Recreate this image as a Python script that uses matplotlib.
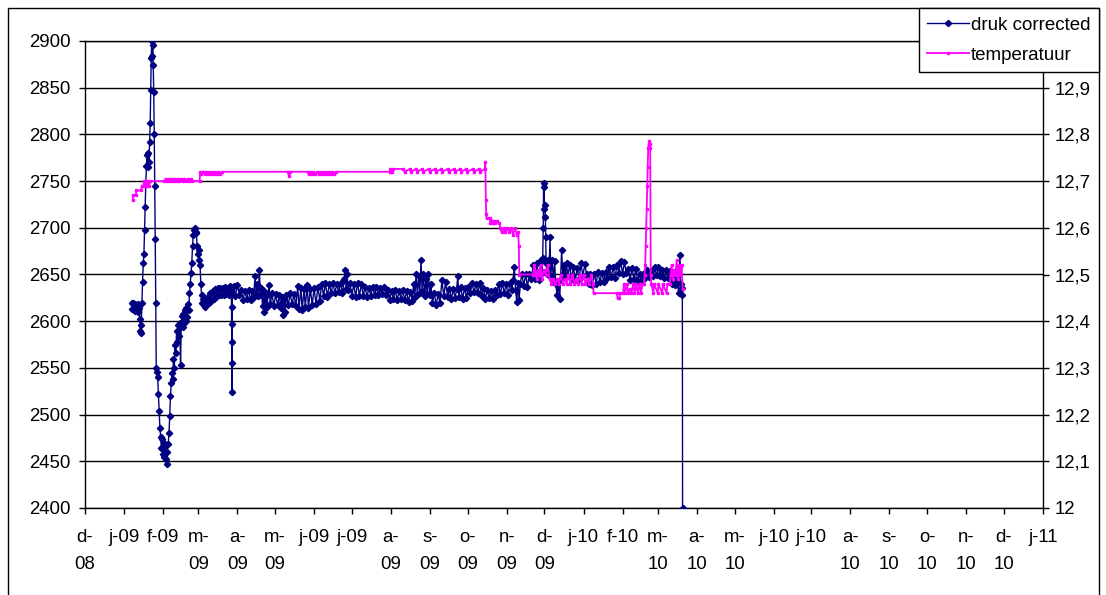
import numpy as np
import matplotlib
matplotlib.use("Agg")
import matplotlib.pyplot as plt
from matplotlib.patches import Rectangle

plt.rcParams["font.family"] = ["Liberation Sans", "DejaVu Sans"]

# --- axis labels -----------------------------------------------------------
month_starts = ["2008-12-01", "2009-01-01", "2009-02-01", "2009-03-01", "2009-04-01",
                "2009-05-01", "2009-06-01", "2009-07-01", "2009-08-01", "2009-09-01",
                "2009-10-01", "2009-11-01", "2009-12-01", "2010-01-01", "2010-02-01",
                "2010-03-01", "2010-04-01", "2010-05-01", "2010-06-01", "2010-07-01",
                "2010-08-01", "2010-09-01", "2010-10-01", "2010-11-01", "2010-12-01",
                "2011-01-01"]
month_labels = ["d-\n08", "j-09", "f-09", "m-\n09", "a-\n09", "m-\n09", "j-09", "j-09",
                "a-\n09", "s-\n09", "o-\n09", "n-\n09", "d-\n09", "j-10", "f-10",
                "m-\n10", "a-\n10", "m-\n10", "j-10", "j-10", "a-\n10", "s-\n10",
                "o-\n10", "n-\n10", "d-\n10", "j-11"]
press_ticks = [2400, 2450, 2500, 2550, 2600, 2650, 2700, 2750, 2800, 2850, 2900]
temp_ticks = [12.0, 12.1, 12.2, 12.3, 12.4, 12.5, 12.6, 12.7, 12.8, 12.9]
temp_tick_labels = ["12", "12,1", "12,2", "12,3", "12,4", "12,5", "12,6", "12,7", "12,8", "12,9"]

# --- druk corrected (days since 2009-01-01, value) --------------------------
press_day = [
    6.1, 6.6, 7.2, 7.8, 8.4, 9.0, 9.6, 10.2, 10.8, 11.4, 12.0, 12.5, 12.9, 13.3, 13.7,
    14.2, 14.7, 15.3, 15.8, 16.3, 16.8, 17.3, 17.8, 18.3, 18.8, 19.3, 19.8, 20.3, 20.8,
    21.2, 21.6, 22.0, 22.4, 22.8, 23.2, 23.6, 24.0, 24.4, 24.8, 25.2, 25.6, 26.1, 26.7,
    27.3, 27.9, 28.5, 29.1, 29.7, 30.3, 30.9, 31.5, 32.1, 32.7, 33.3, 33.9, 34.5, 35.1,
    35.7, 36.3, 36.9, 37.5, 38.1, 38.7, 39.3, 39.9, 40.5, 41.1, 41.8, 42.4, 43.1, 43.7,
    44.3, 44.9, 45.4, 46.0, 46.6, 47.2, 47.8, 48.4, 49.0, 49.6, 50.2, 50.8, 51.4, 52.0,
    52.6, 53.2, 53.8, 54.4, 55.0, 55.6, 56.2, 56.8, 57.4, 58.0, 58.6, 59.2, 59.8, 60.4,
    61.0, 61.6, 62.2, 62.8, 63.4, 64.0, 64.6, 65.2, 65.8, 66.4, 67.4, 68.4, 69.4, 70.4,
    71.4, 72.4, 73.4, 74.4, 75.4, 76.4, 77.4, 78.4, 79.4, 80.4, 81.4, 82.4, 83.4, 84.4,
    85.2, 85.4, 85.5, 85.6, 85.7, 85.8, 86.0,
    87.0, 88.5, 90.0, 91.5, 93.0, 94.5, 96.0, 97.5, 99.0, 100.5, 102.0, 103.0, 104.1,
    105.0, 106.0, 106.8, 107.5, 108.3, 109.2, 110.0, 111.0, 111.5, 112.5, 113.5, 114.5,
    115.2, 116.2, 117.5, 119.0, 120.5, 122.0, 123.5, 124.5, 125.5, 126.3, 127.2, 128.0,
    129.0, 130.5, 132.0, 133.5, 135.0, 136.5, 138.0, 139.0, 140.5, 141.5, 143.0, 144.0,
    145.5, 146.5, 148.0, 149.5, 151.0, 152.5, 154.0, 155.5, 157.0, 158.5, 160.0, 161.5,
    163.0, 164.5, 166.0, 167.5, 169.0, 170.5, 172.0, 173.5, 175.0, 175.6, 176.4, 177.2,
    178.0, 179.5, 181.0, 182.5, 184.0, 185.5, 187.0, 188.5, 190.0, 191.5, 193.0, 194.5,
    196.0, 197.5, 199.0, 200.5, 202.0, 203.5, 205.0, 206.5, 208.0, 209.5, 211.0, 212.5,
    214.0, 215.5, 217.0, 218.5, 220.0, 221.5, 223.0, 224.5, 226.0, 227.5, 229.0, 230.0,
    231.0, 232.0, 233.0, 234.0, 235.0, 235.9, 236.8, 237.8, 238.8, 239.8, 240.8, 241.8,
    242.8, 243.8, 245.0, 246.5, 248.0, 249.5, 251.0, 252.5, 254.0, 255.5, 257.0, 258.5,
    260.0, 261.5, 263.0, 264.3, 265.1, 266.0, 267.5, 269.0, 270.5, 272.0, 273.5, 275.0,
    276.5, 278.0, 279.5, 281.0, 282.5, 284.0, 285.5, 287.0, 288.5, 290.0, 291.5, 293.0,
    294.5, 296.0, 297.5, 299.0, 300.5, 302.0, 303.5, 305.0, 306.5, 308.0, 309.0, 310.0,
    311.0, 312.0, 313.0, 313.8, 314.8, 316.0, 317.5, 319.0, 320.5, 322.0, 323.5, 325.0,
    326.5, 328.0, 329.5, 331.0, 332.0, 332.6, 333.0, 333.3, 333.7, 334.0, 334.3, 334.7,
    335.0, 335.3, 336.0, 336.8, 337.6, 338.4, 339.0, 340.0, 341.0, 342.0, 343.0, 344.0,
    345.0, 346.0, 346.8, 347.6, 348.5, 349.5, 350.5, 351.5, 352.5, 354.0, 355.5, 357.0,
    358.5, 360.0, 361.5, 363.0, 364.5, 366.0, 367.5, 369.0, 370.5, 372.0, 373.5, 375.0,
    376.5, 378.0, 379.5, 381.0, 382.5, 384.0, 385.5, 387.0, 388.5, 390.0, 391.5, 393.0,
    394.5, 396.0, 397.5, 399.0, 400.5, 402.0, 403.5, 405.0, 406.5, 408.0, 409.5, 411.0,
    412.5, 414.0, 415.5, 417.0, 418.5, 420.0, 421.5, 423.0, 424.5, 426.0, 427.5, 429.0,
    430.5, 432.0, 433.5, 435.0, 436.5, 438.0, 439.5, 440.5, 441.6, 442.2, 443.0, 443.5,
    443.7]
press_val = [
    2620, 2613, 2619, 2612, 2618, 2611, 2617, 2612, 2618, 2610, 2614, 2602, 2590, 2587, 2596,
    2620, 2642, 2662, 2672, 2698, 2722, 2748, 2766, 2778, 2765, 2780, 2770, 2792, 2812,
    2848, 2882, 2900, 2884, 2896, 2874, 2845, 2800, 2745, 2688, 2620, 2550, 2546, 2540,
    2522, 2504, 2486, 2476, 2464, 2474, 2458, 2470, 2455, 2466, 2452, 2447, 2460, 2468,
    2480, 2498, 2520, 2534, 2545, 2538, 2560, 2550, 2574, 2566, 2590, 2578, 2596, 2584,
    2598, 2553, 2595, 2606, 2594, 2608, 2598, 2612, 2600, 2614, 2604, 2618, 2612, 2630,
    2640, 2652, 2662, 2680, 2692, 2698, 2700, 2694, 2696, 2680, 2672, 2676, 2666, 2660,
    2640, 2628, 2620, 2624, 2617, 2620, 2615, 2624, 2618, 2626, 2620, 2630, 2622, 2632,
    2624, 2634, 2626, 2636, 2628, 2636, 2628, 2636, 2628, 2637, 2629, 2636, 2628, 2638,
    2632, 2615, 2597, 2578, 2555, 2524, 2630,
    2638, 2627, 2639, 2628, 2633, 2623, 2632, 2624, 2633, 2623, 2632, 2626, 2648,
    2628, 2640, 2627, 2655, 2628, 2636, 2616, 2632, 2610, 2628, 2615, 2629,
    2639, 2618, 2630, 2616, 2629, 2617, 2628, 2614, 2626, 2607, 2624, 2610,
    2628, 2617, 2630, 2618, 2629, 2616, 2638, 2613, 2636, 2612, 2634, 2615,
    2639, 2614, 2635, 2617, 2636, 2618, 2637, 2622, 2640, 2627, 2641, 2626,
    2640, 2630, 2641, 2630, 2640, 2631, 2641, 2630, 2645, 2655, 2634, 2650,
    2633, 2641, 2627, 2640, 2626, 2641, 2627, 2640, 2627, 2637, 2626, 2636,
    2627, 2637, 2628, 2637, 2628, 2636, 2629, 2637, 2628, 2633, 2623, 2632,
    2624, 2633, 2623, 2632, 2624, 2633, 2623, 2632, 2621, 2631, 2622, 2640,
    2626, 2650, 2628, 2648, 2630, 2666, 2632, 2651, 2627, 2645, 2629, 2650,
    2628, 2640, 2620, 2630, 2617, 2629, 2619, 2644, 2627, 2642, 2626, 2635,
    2624, 2634, 2625, 2635, 2648, 2626, 2637, 2624, 2636, 2625, 2637, 2630,
    2641, 2631, 2640, 2630, 2641, 2627, 2636, 2624, 2633, 2625, 2632, 2624,
    2633, 2628, 2640, 2629, 2641, 2630, 2640, 2628, 2641, 2633, 2644, 2658,
    2633, 2621, 2641, 2623, 2640, 2651, 2638, 2650, 2637, 2651, 2645, 2660,
    2645, 2662, 2644, 2665, 2652, 2668, 2700, 2748, 2744, 2720, 2724, 2712,
    2690, 2662, 2650, 2666, 2649, 2690, 2648, 2666, 2645, 2664, 2640, 2628,
    2642, 2624, 2645, 2676, 2650, 2660, 2649, 2662, 2648, 2660, 2645, 2658,
    2644, 2657, 2645, 2662, 2648, 2661, 2650, 2640, 2650, 2639, 2651, 2640,
    2653, 2642, 2652, 2642, 2653, 2646, 2658, 2647, 2658, 2646, 2660, 2652,
    2664, 2651, 2663, 2652, 2656, 2644, 2657, 2645, 2656, 2643, 2651, 2642,
    2651, 2646, 2655, 2647, 2654, 2648, 2658, 2649, 2658, 2648, 2655, 2646,
    2655, 2646, 2654, 2640, 2649, 2639, 2644, 2630, 2671, 2640, 2628, 2636,
    2400]

# --- temperatuur (days since 2009-01-01, value) -----------------------------
temp_day = [
    6.9, 7.4, 9.3, 9.8, 13.6, 14.1, 15.6, 16.0, 16.8, 17.6, 18.4, 19.2, 20.0, 20.8,
    32.0, 33.0, 34.0, 35.5, 36.5, 38.0, 39.0, 40.5, 41.5, 43.0, 44.0, 45.5, 46.5, 48.0,
    49.0, 50.5, 51.5, 53.0, 54.0, 60.0, 60.5, 61.5, 62.5, 64.0, 65.0, 66.5, 67.5, 69.0,
    70.0, 71.5, 72.5, 74.0, 75.0, 76.5, 77.5, 130.5, 131.0, 131.5, 146.0, 147.0, 148.0,
    149.5, 150.5, 152.0, 153.0, 154.5, 155.5, 157.0, 158.0, 159.5, 160.5, 162.0, 163.0,
    164.5, 165.5, 167.0, 168.0, 211.0, 211.5, 212.5, 213.5, 222.0, 222.8, 227.0, 227.8,
    232.0, 232.8, 237.0, 237.8, 242.0, 242.8, 247.0, 247.8, 252.0, 252.8, 257.0, 257.8,
    262.0, 262.8, 267.0, 267.8, 272.0, 272.8, 277.0, 277.8, 282.0, 282.8, 286.5, 287.0,
    287.4, 287.7, 288.0, 290.5, 291.0, 292.0, 293.0, 294.0, 295.0, 296.5, 298.0, 299.0,
    300.0, 301.5, 303.0, 304.5, 306.0, 307.5, 309.0, 310.5, 312.0, 313.2, 313.6, 314.0,
    325.0, 326.0, 327.0, 328.0, 329.0, 330.0, 331.0, 332.0, 333.5, 335.0, 336.5, 338.0,
    339.5, 341.0, 342.5, 344.0, 345.5, 347.0, 348.5, 350.0, 351.5, 353.0, 354.5, 356.0,
    357.5, 359.0, 360.5, 362.0, 363.5, 365.0, 366.5, 368.0, 369.5, 371.0, 372.5, 373.0,
    391.5, 392.0, 393.5, 394.0, 396.5, 397.0, 398.0, 399.5, 400.5, 402.0, 403.0, 404.5,
    405.5, 407.0, 408.0, 409.5, 410.5, 412.0, 413.0, 413.6, 414.0, 414.4, 414.8, 415.2,
    415.6, 416.0, 416.4, 416.8, 417.2, 417.6, 418.0, 418.4, 418.8, 420.5, 421.0, 424.0,
    424.5, 427.5, 428.0, 431.0, 431.5, 433.7, 434.2, 435.0, 436.0, 437.0, 438.0, 439.0,
    440.0, 441.0, 442.0, 443.0, 443.7]
temp_val = [
    12.66, 12.67, 12.67, 12.68, 12.68, 12.69, 12.69, 12.70, 12.69, 12.70, 12.69, 12.70, 12.69, 12.70,
    12.70, 12.705, 12.70, 12.705, 12.70, 12.705, 12.70, 12.705, 12.70, 12.705, 12.70, 12.705, 12.70, 12.705,
    12.70, 12.705, 12.70, 12.705, 12.70, 12.70, 12.72, 12.715, 12.72, 12.715, 12.72, 12.715, 12.72, 12.715,
    12.72, 12.715, 12.72, 12.715, 12.72, 12.715, 12.72, 12.72, 12.71, 12.72, 12.72, 12.715, 12.72,
    12.715, 12.72, 12.715, 12.72, 12.715, 12.72, 12.715, 12.72, 12.715, 12.72, 12.715, 12.72,
    12.715, 12.72, 12.715, 12.72, 12.72, 12.726, 12.72, 12.726, 12.726, 12.72, 12.726, 12.72,
    12.726, 12.72, 12.726, 12.72, 12.726, 12.72, 12.726, 12.72, 12.726, 12.72, 12.726, 12.72,
    12.726, 12.72, 12.726, 12.72, 12.726, 12.72, 12.726, 12.72, 12.726, 12.72, 12.726, 12.74,
    12.66, 12.63, 12.62, 12.62, 12.61, 12.615, 12.61, 12.615, 12.61, 12.615, 12.61, 12.60,
    12.59, 12.60, 12.59, 12.60, 12.59, 12.60, 12.585, 12.60, 12.585, 12.59, 12.56, 12.50,
    12.50, 12.52, 12.50, 12.49, 12.51, 12.50, 12.52, 12.49, 12.51, 12.50, 12.52, 12.49,
    12.48, 12.49, 12.48, 12.49, 12.48, 12.50, 12.48, 12.49, 12.48, 12.50, 12.48, 12.50,
    12.48, 12.49, 12.48, 12.50, 12.48, 12.50, 12.48, 12.49, 12.48, 12.50, 12.48, 12.46,
    12.46, 12.45, 12.45, 12.46, 12.46, 12.48, 12.46, 12.48, 12.46, 12.47, 12.46, 12.48,
    12.46, 12.48, 12.46, 12.48, 12.46, 12.48, 12.48, 12.50, 12.52, 12.56, 12.60, 12.64,
    12.69, 12.73, 12.77, 12.78, 12.785, 12.78, 12.77, 12.50, 12.48, 12.46, 12.48, 12.46,
    12.48, 12.46, 12.48, 12.46, 12.48, 12.48, 12.50, 12.52, 12.49, 12.51, 12.50, 12.53,
    12.49, 12.52, 12.50, 12.52, 12.47]

# --- figure ------------------------------------------------------------------
W, H = 1106, 595
FS = 13.4
NAVY = "#000080"
MAGENTA = "#FF00FF"

base = np.datetime64("2009-01-01T00:00:00")
def to_dates(days):
    return base + (np.asarray(days) * 86400).astype("timedelta64[s]")

press_t = to_dates(press_day)
temp_t = to_dates(temp_day)
tick_t = np.array(month_starts, dtype="datetime64[D]")

fig = plt.figure(figsize=(W / 100, H / 100), dpi=100)
fig.patch.set_facecolor("white")

left, right, bottom, top = 85 / W, 1043 / W, 1 - 508 / H, 1 - 41 / H
ax = fig.add_axes([left, bottom, right - left, top - bottom])
ax2 = ax.twinx()

ax.plot(press_t, press_val, color=NAVY, lw=1.0, marker="D", ms=3.2,
        mec=NAVY, mfc=NAVY, label="druk corrected", zorder=3)
ax2.plot(temp_t, temp_val, color=MAGENTA, lw=1.3, marker="s", ms=1.6,
         mec=MAGENTA, mfc=MAGENTA, label="temperatuur", zorder=3)

ax.set_xlim(tick_t[0], tick_t[-1])
ax.set_ylim(2400, 2900)
ax2.set_ylim(12.0, 13.0)

ax.set_xticks(tick_t)
ax.set_xticklabels(month_labels, fontsize=FS, linespacing=1.75)
ax.set_yticks(press_ticks)
ax.set_yticklabels([str(v) for v in press_ticks], fontsize=FS)
ax2.set_yticks(temp_ticks)
ax2.set_yticklabels(temp_tick_labels, fontsize=FS)

ax.tick_params(axis="x", direction="out", length=4.3, width=1, pad=11, colors="black")
ax.tick_params(axis="y", direction="out", length=4.3, width=1, pad=6.2, colors="black")
ax2.tick_params(axis="y", direction="out", length=4.3, width=1, pad=4, colors="black")

ax.yaxis.grid(True, color="black", lw=1.0)
ax.set_axisbelow(True)
for s in ax.spines.values():
    s.set_color("black")
    s.set_linewidth(1.0)
ax.spines["right"].set_visible(False)
for name, s in ax2.spines.items():
    s.set_visible(name == "right")
    s.set_color("black")
    s.set_linewidth(1.0)

# outer chart border
fig.add_artist(Rectangle((8 / W, -0.05), (1099 - 8) / W, 1 - 8 / H + 0.05,
                         transform=fig.transFigure, fill=False, ec="black", lw=1.0))

h1, l1 = ax.get_legend_handles_labels()
h2, l2 = ax2.get_legend_handles_labels()
leg = fig.legend(h1 + h2, l1 + l2, loc="upper right",
                 bbox_to_anchor=(1099 / W, 1 - 8 / H), bbox_transform=fig.transFigure,
                 borderaxespad=0, fontsize=13.5, frameon=True, fancybox=False,
                 shadow=False, framealpha=1, edgecolor="black", borderpad=0.45,
                 labelspacing=0.7, handlelength=2.25, handletextpad=0.1, numpoints=1)
leg.get_frame().set_linewidth(1.0)
leg.set_zorder(10)

fig.savefig("out.png", dpi=100, facecolor="white")
